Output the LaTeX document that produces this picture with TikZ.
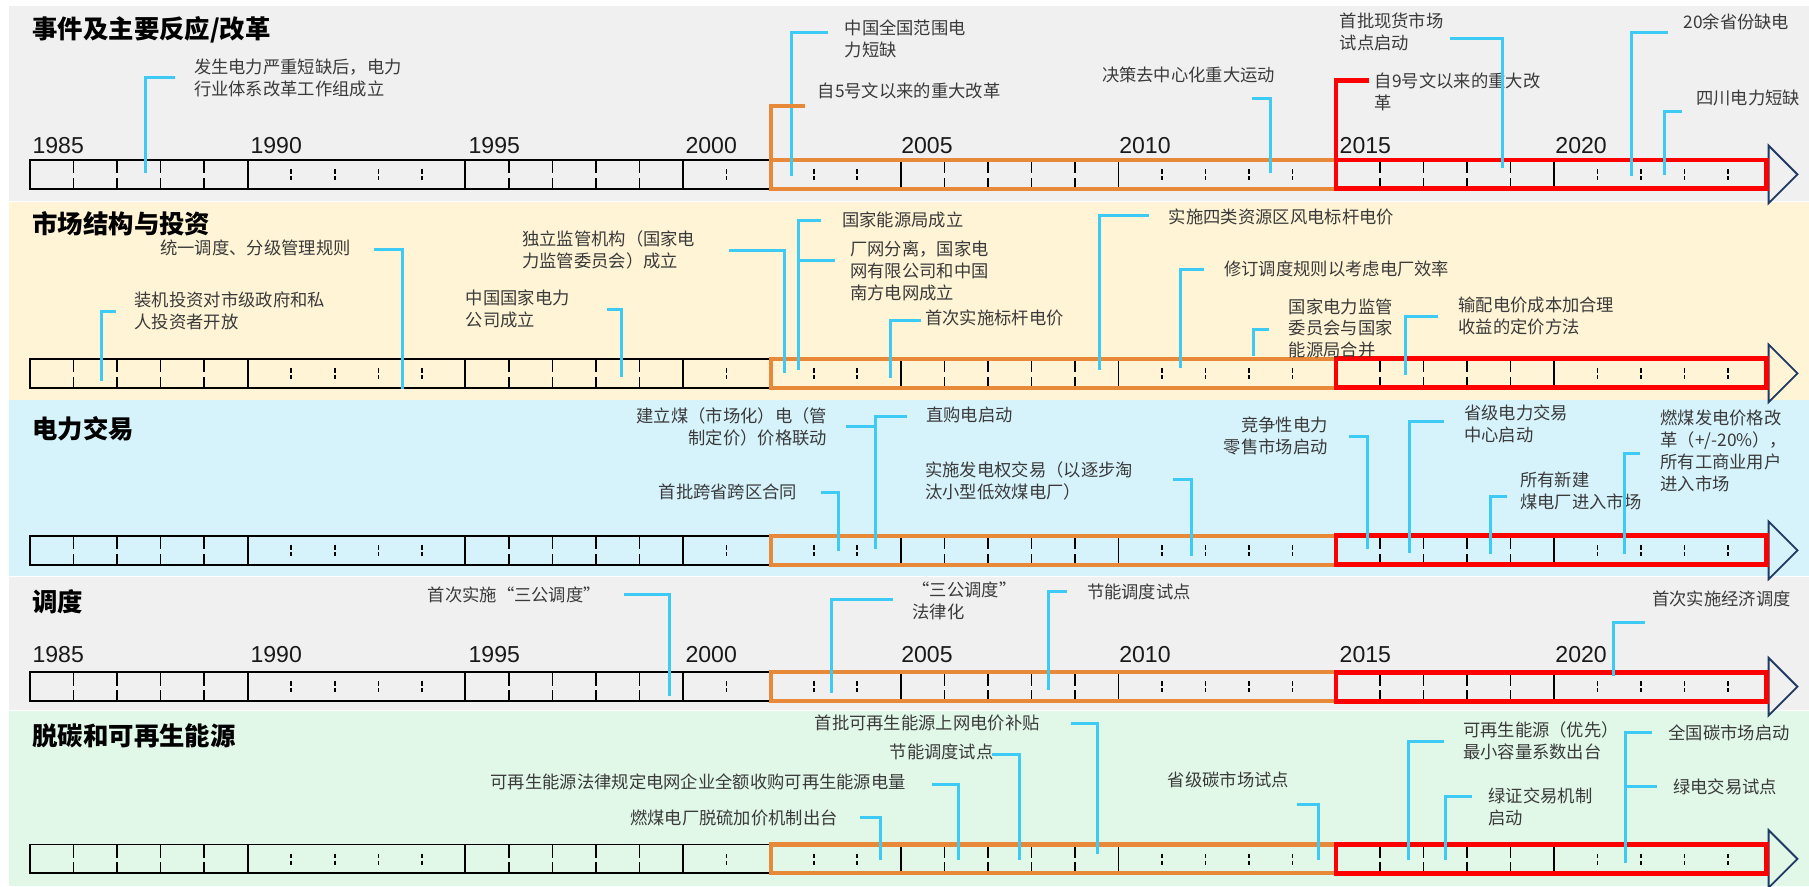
\documentclass[tikz,border=0pt]{standalone}
\usepackage{fontspec}
\setmainfont{Liberation Sans}
\newfontfamily\cjk{Noto Sans CJK SC}
\definecolor{bandgray}{HTML}{F0F0F0}
\definecolor{bandyellow}{HTML}{FFF4D5}
\definecolor{bandblue}{HTML}{D6F3FC}
\definecolor{bandgreen}{HTML}{E1F8E8}
\definecolor{leadc}{HTML}{3DCBF5}
\definecolor{orangec}{HTML}{E8893A}
\definecolor{redc}{HTML}{FF0000}
\definecolor{navyc}{HTML}{1F3864}
\definecolor{txtc}{HTML}{3A3A3A}
\tikzset{
  lbl/.style={font={\cjk\fontsize{15}{19}\selectfont}, text=txtc, inner sep=0pt, align=left, anchor=west},
  lblr/.style={lbl, align=right, anchor=east},
  ttl/.style={font={\cjk\bfseries\fontsize{22}{26}\selectfont}, text=black, inner sep=0pt, anchor=west},
  yr/.style={font={\fontsize{20}{24}\selectfont}, text=black!90, inner sep=0pt, anchor=west},
  leader/.style={draw=leadc, line width=2.6pt},
  barline/.style={draw=black, line width=1.6pt},
  major/.style={draw=black, line width=1.6pt},
  tick/.style={draw=black, line width=1.4pt},
  obox/.style={draw=orangec, line width=3.6pt},
  rbox/.style={draw=redc, line width=4.2pt},
  tri/.style={draw=navyc, line width=1.6pt, line join=miter},
}
\newcommand{\ldr}[5]{%
  \coordinate (#1h) at (#5,#3);
  \coordinate (#1c) at (#2,#3);
  \coordinate (#1b) at (#2,#4);
  \draw[leader] (#1h) -- (#1c) -- (#1b);}
\newcommand{\tline}[2]{%
  \begin{scope}[shift={(0,#2)}]
    \draw[tri] (1533,-25) -- (1558,0) -- (1533,25) -- cycle;
    \draw[barline] (26,-12.5) rectangle (668,12.5);
    \foreach \yr in {1990,1995,2000,2005,2010,2020}
      \draw[major] ({26+(\yr-1985)*37.74},-12.5) -- ({26+(\yr-1985)*37.74},12.5);
    \foreach \yr in {1986,1987,1988,1989,1996,1997,1998,1999,2006,2007,2008,2009,2016,2017,2018,2019}
      \draw[tick] ({26+(\yr-1985)*37.74},-12.5) -- ({26+(\yr-1985)*37.74},-1)
                  ({26+(\yr-1985)*37.74},3) -- ({26+(\yr-1985)*37.74},12.5);
    \foreach \yr in {1991,1992,1993,1994,2001,2003,2004,2011,2012,2013,2014,2021,2022,2023,2024}
      \draw[tick] ({26+(\yr-1985)*37.74},-4.5) -- ({26+(\yr-1985)*37.74},-0.5)
                  ({26+(\yr-1985)*37.74},1.5) -- ({26+(\yr-1985)*37.74},5);
    \draw[obox] (668,-12.5) rectangle (1158,12.5);
    \draw[rbox] (1158,-12.5) rectangle (1531,12.5);
    \coordinate (#1) at (26,0);
  \end{scope}}
\begin{document}
\begin{tikzpicture}[x=1pt,y=-1pt]
\useasboundingbox (0,0) rectangle (1568,768);
% bands
\fill[bandgray]   (8,5)     rectangle (1568,174.5);
\fill[bandyellow] (8,175)   rectangle (1568,346.5);
\fill[bandblue]   (8,347)   rectangle (1568,499.5);
\fill[bandgray]   (8,500)   rectangle (1568,615.5);
\fill[bandgreen]  (8,616)   rectangle (1568,768);
% titles
\node[ttl] (t1) at (28,26) {事件及主要反应/改革};
\node[ttl] (t2) at (28,194) {市场结构与投资};
\node[ttl] (t3) at (28,372) {电力交易};
\node[ttl] (t4) at (28,522) {调度};
\node[ttl] (t5) at (28,638) {脱碳和可再生能源};
% timelines
\tline{bar1}{151.2}
\tline{bar2}{323.6}
\tline{bar3}{477}
\tline{bar4}{595.2}
\tline{bar5}{744.5}
% year labels
\foreach \yr/\xx in {1985/28,1990/217,1995/406,2000/594,2005/781,2010/970,2015/1161,2020/1348}{
  \node[yr] (ya\yr) at (\xx,126) {\yr};
  \node[yr] (yb\yr) at (\xx,567) {\yr};
}
% ---------- band 1 ----------
\node[lbl] (e1) at (168,67.5) {发生电力严重短缺后，电力\\行业体系改革工作组成立};
\ldr{l1}{125.7}{67.6}{150}{151.7}
\node[lbl] (e2) at (732,34) {中国全国范围电\\力短缺};
\ldr{l2}{686}{28}{152.6}{718}
\coordinate (ob0) at (668,138.7);
\coordinate (ob1) at (668,92);
\coordinate (ob2) at (698,92);
\draw[obox] (ob0) -- (ob1) -- (ob2);
\node[lbl] (e3) at (708.6,78.6) {自5号文以来的重大改革};
\node[lbl] (e4) at (955,65) {决策去中心化重大运动};
\ldr{l4}{1101.4}{85.8}{150}{1085}
\coordinate (rb0) at (1158,138.7);
\coordinate (rb1) at (1158,70);
\coordinate (rb2) at (1187,70);
\draw[rbox] (rb0) -- (rb1) -- (rb2);
\node[lbl] (e5) at (1191.6,79.4) {自9号文以来的重大改\\革};
\node[lbl] (e6) at (1161,27.5) {首批现货市场\\试点启动};
\ldr{l6}{1302.7}{33.2}{146}{1257}
\node[lbl] (e7) at (1459,18.8) {20余省份缺电};
\ldr{l7}{1413.7}{28}{152.6}{1446}
\node[lbl] (e8) at (1470,85) {四川电力短缺};
\ldr{l8}{1442.5}{97}{151.7}{1458}
% ---------- band 2 ----------
\node[lbl] (f1) at (138.8,215) {统一调度、分级管理规则};
\ldr{m1}{348.6}{216}{337}{324}
\node[lbl] (f2) at (116.5,269.5) {装机投资对市级政府和私\\人投资者开放};
\ldr{m2}{88.4}{270}{330}{100.4}
\node[lbl] (f3) at (403.7,268) {中国国家电力\\公司成立};
\ldr{m3}{539}{268}{327}{526}
\node[lbl] (f4) at (452.4,217) {独立监管机构（国家电\\力监管委员会）成立};
\ldr{m4}{680}{217.3}{323.6}{632}
\node[lbl] (f5) at (729.8,190.3) {国家能源局成立};
\node[lbl] (f6) at (736.7,234.6) {厂网分离，国家电\\网有限公司和中国\\南方电网成立};
\ldr{m5}{692.5}{190.7}{320.7}{711.3}
\coordinate (m6h) at (724,226.2);
\coordinate (m6c) at (692.5,226.2);
\draw[leader] (m6c) -- (m6h);
\node[lbl] (f7) at (801.8,275.5) {首次实施标杆电价};
\ldr{m7}{772}{278}{328}{798}
\node[lbl] (f8) at (1013,188) {实施四类资源区风电标杆电价};
\ldr{m8}{953}{187}{320.7}{995.7}
\node[lbl] (f9) at (1061,233) {修订调度规则以考虑电厂效率};
\ldr{m9}{1022.8}{233.5}{319}{1043.6}
\node[lbl] (f10) at (1117,284.6) {国家电力监管\\委员会与国家\\能源局合并};
\ldr{m10}{1086.6}{285.5}{309}{1100}
\node[lbl] (f11) at (1264,273.7) {输配电价成本加合理\\收益的定价方法};
\ldr{m11}{1218.5}{274.5}{325}{1246}
% ---------- band 3 ----------
\node[lblr] (g1) at (717,370) {建立煤（市场化）电（管\\制定价）价格联动};
\node[lbl] (g2) at (802.7,360) {直购电启动};
\ldr{n1}{759}{361}{476}{786}
\coordinate (n1l) at (733.3,369.3);
\coordinate (n1m) at (759,369.3);
\draw[leader] (n1l) -- (n1m);
\node[lbl] (g3) at (570.8,426) {首批跨省跨区合同};
\ldr{n3}{726.4}{427}{478}{711.3}
\node[lbl] (g4) at (801.8,417) {实施发电权交易（以逐步淘\\汰小型低效煤电厂）};
\ldr{n4}{1033}{416}{481.6}{1017}
\node[lblr] (g5) at (1151,378) {竞争性电力\\零售市场启动};
\ldr{n5}{1185}{378}{476}{1169}
\node[lbl] (g6) at (1269,367) {省级电力交易\\中心启动};
\ldr{n6}{1222}{365.5}{479.6}{1251.5}
\node[lbl] (g7) at (1317.6,425.4) {所有新建\\煤电厂进入市场};
\ldr{n7}{1291.5}{430.5}{480}{1306}
\node[lbl] (g8) at (1439,391) {燃煤发电价格改\\革（+/-20\%），\\所有工商业用户\\进入市场};
\ldr{n8}{1408}{393}{480.5}{1421.5}
% ---------- band 4 ----------
\node[lblr] (h1) at (521,515.5) {首次实施“三公调度”};
\ldr{o1}{580}{515}{603}{540.6}
\node[lbl] (h2) at (790.8,521) {“三公调度”\\法律化};
\ldr{o2}{721}{520}{601}{773.7}
\node[lbl] (h3) at (942,512.8) {节能调度试点};
\ldr{o3}{909}{512.8}{598}{924.5}
\node[lbl] (h4) at (1432,519.5) {首次实施经济调度};
\ldr{o4}{1398.6}{539.7}{586}{1425.6}
% ---------- band 5 ----------
\node[lbl] (i1) at (706,627) {首批可再生能源上网电价补贴};
\ldr{p1}{951}{627}{740}{928}
\node[lbl] (i2) at (771,652) {节能调度试点};
\ldr{p2}{884}{654}{745}{860}
\node[lbl] (i3) at (425,678) {可再生能源法律规定电网企业全额收购可再生能源电量};
\ldr{p3}{831}{680}{745}{808}
\node[lbl] (i4) at (546,709) {燃煤电厂脱硫加价机制出台};
\ldr{p4}{763}{709}{745}{745}
\node[lbl] (i5) at (1012,676) {省级碳市场试点};
\ldr{p5}{1143}{697}{745}{1124}
\node[lbl] (i6) at (1268,642.5) {可再生能源（优先）\\最小容量系数出台};
\ldr{p6}{1221}{643}{745}{1252}
\node[lbl] (i7) at (1290,699.5) {绿证交易机制\\启动};
\ldr{p7}{1253}{690}{745}{1276}
\node[lbl] (i8) at (1446,635) {全国碳市场启动};
\ldr{p8}{1409}{635}{748}{1432}
\node[lbl] (i9) at (1450,682) {绿电交易试点};
\coordinate (p9h) at (1436,682);
\coordinate (p9c) at (1409,682);
\draw[leader] (p9c) -- (p9h);
\end{tikzpicture}
\end{document}
